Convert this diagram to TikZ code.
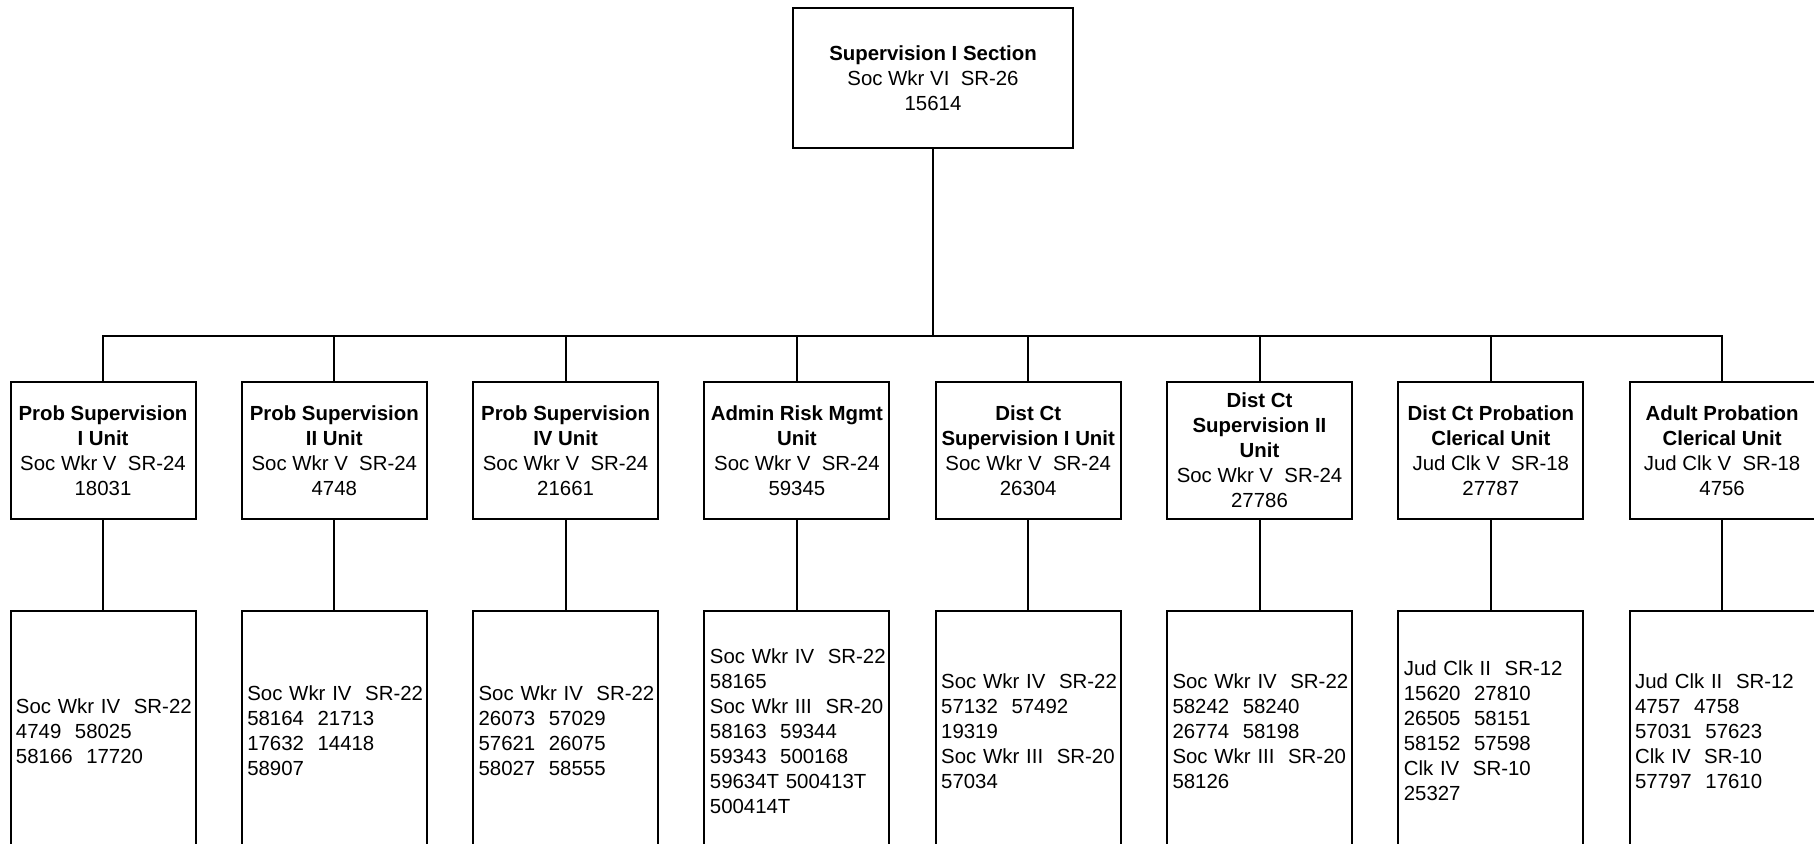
\documentclass[tikz,border=0pt]{standalone}
\usepackage{fontspec}
\setmainfont{Liberation Sans}
\usetikzlibrary{positioning}

\begin{document}
\begin{tikzpicture}[x=0.5pt, y=-0.5pt, line width=1pt,
      font=\fontsize{10.2}{12.5}\selectfont, node distance=45pt and 22.15pt,
      every node/.style={draw, align=center, inner sep=0pt},
      unitbox/.style={minimum width=92.5pt, minimum height=68.5pt},
      staffbox/.style={minimum width=92.5pt, minimum height=120pt, text width=87pt,
        align=left, inner xsep=2.75pt, execute at begin node={\exhyphenpenalty=10000\relax}}]
      \useasboundingbox (0,0) rectangle (1814,843);
      \clip (0,0) rectangle (1814,843);
      \node[minimum width=140pt, minimum height=70pt] (s) at (933,78)
        {\textbf{Supervision I Section}\\Soc Wkr VI~~SR-26\\15614};
      \node[unitbox] (u1) at (103,450.5)
        {\textbf{Prob Supervision}\\\textbf{I Unit}\\Soc Wkr V~~SR-24\\18031};
      \node[unitbox, right=of u1] (u2)
        {\textbf{Prob Supervision}\\\textbf{II Unit}\\Soc Wkr V~~SR-24\\4748};
      \node[unitbox, right=of u2] (u3)
        {\textbf{Prob Supervision}\\\textbf{IV Unit}\\Soc Wkr V~~SR-24\\21661};
      \node[unitbox, right=of u3] (u4)
        {\textbf{Admin Risk Mgmt}\\\textbf{Unit}\\Soc Wkr V~~SR-24\\59345};
      \node[unitbox, right=of u4] (u5)
        {\textbf{Dist Ct}\\\textbf{Supervision I Unit}\\Soc Wkr V~~SR-24\\26304};
      \node[unitbox, right=of u5] (u6)
        {\textbf{Dist Ct}\\\textbf{Supervision II}\\\textbf{Unit}\\Soc Wkr V~~SR-24\\27786};
      \node[unitbox, right=of u6] (u7)
        {\textbf{Dist Ct Probation}\\\textbf{Clerical Unit}\\Jud Clk V~~SR-18\\27787};
      \node[unitbox, right=of u7] (u8)
        {\textbf{Adult Probation}\\\textbf{Clerical Unit}\\Jud Clk V~~SR-18\\4756};
      \node[staffbox, below=of u1] (p1)
        {Soc~Wkr~IV~~SR-22\\4749~~58025\\58166~~17720};
      \node[staffbox, below=of u2] (p2)
        {Soc~Wkr~IV~~SR-22\\58164~~21713\\17632~~14418\\58907};
      \node[staffbox, below=of u3] (p3)
        {Soc~Wkr~IV~~SR-22\\26073~~57029\\57621~~26075\\58027~~58555};
      \node[staffbox, below=of u4] (p4)
        {Soc~Wkr~IV~~SR-22\\58165\\Soc~Wkr~III~~SR-20\\58163~~59344\\59343~~500168\\59634T~500413T\\500414T};
      \node[staffbox, below=of u5] (p5)
        {Soc~Wkr~IV~~SR-22\\57132~~57492\\19319\\Soc~Wkr~III~~SR-20\\57034};
      \node[staffbox, below=of u6] (p6)
        {Soc~Wkr~IV~~SR-22\\58242~~58240\\26774~~58198\\Soc~Wkr~III~~SR-20\\58126};
      \node[staffbox, below=of u7] (p7)
        {Jud~Clk~II~~SR-12\\15620~~27810\\26505~~58151\\58152~~57598\\Clk~IV~~SR-10\\25327};
      \node[staffbox, below=of u8] (p8)
        {Jud~Clk~II~~SR-12\\4757~~4758\\57031~~57623\\Clk~IV~~SR-10\\57797~~17610};
      \coordinate (bus) at (933,336);
      \draw (s) -- (bus);
      \draw (bus) -| (u1); \draw (bus) -| (u2); \draw (bus) -| (u3); \draw (bus) -| (u4);
      \draw (bus) -| (u5); \draw (bus) -| (u6); \draw (bus) -| (u7); \draw (bus) -| (u8);
      \draw (u1) -- (p1); \draw (u2) -- (p2); \draw (u3) -- (p3); \draw (u4) -- (p4);
      \draw (u5) -- (p5); \draw (u6) -- (p6); \draw (u7) -- (p7); \draw (u8) -- (p8);
    \end{tikzpicture}
\end{document}
